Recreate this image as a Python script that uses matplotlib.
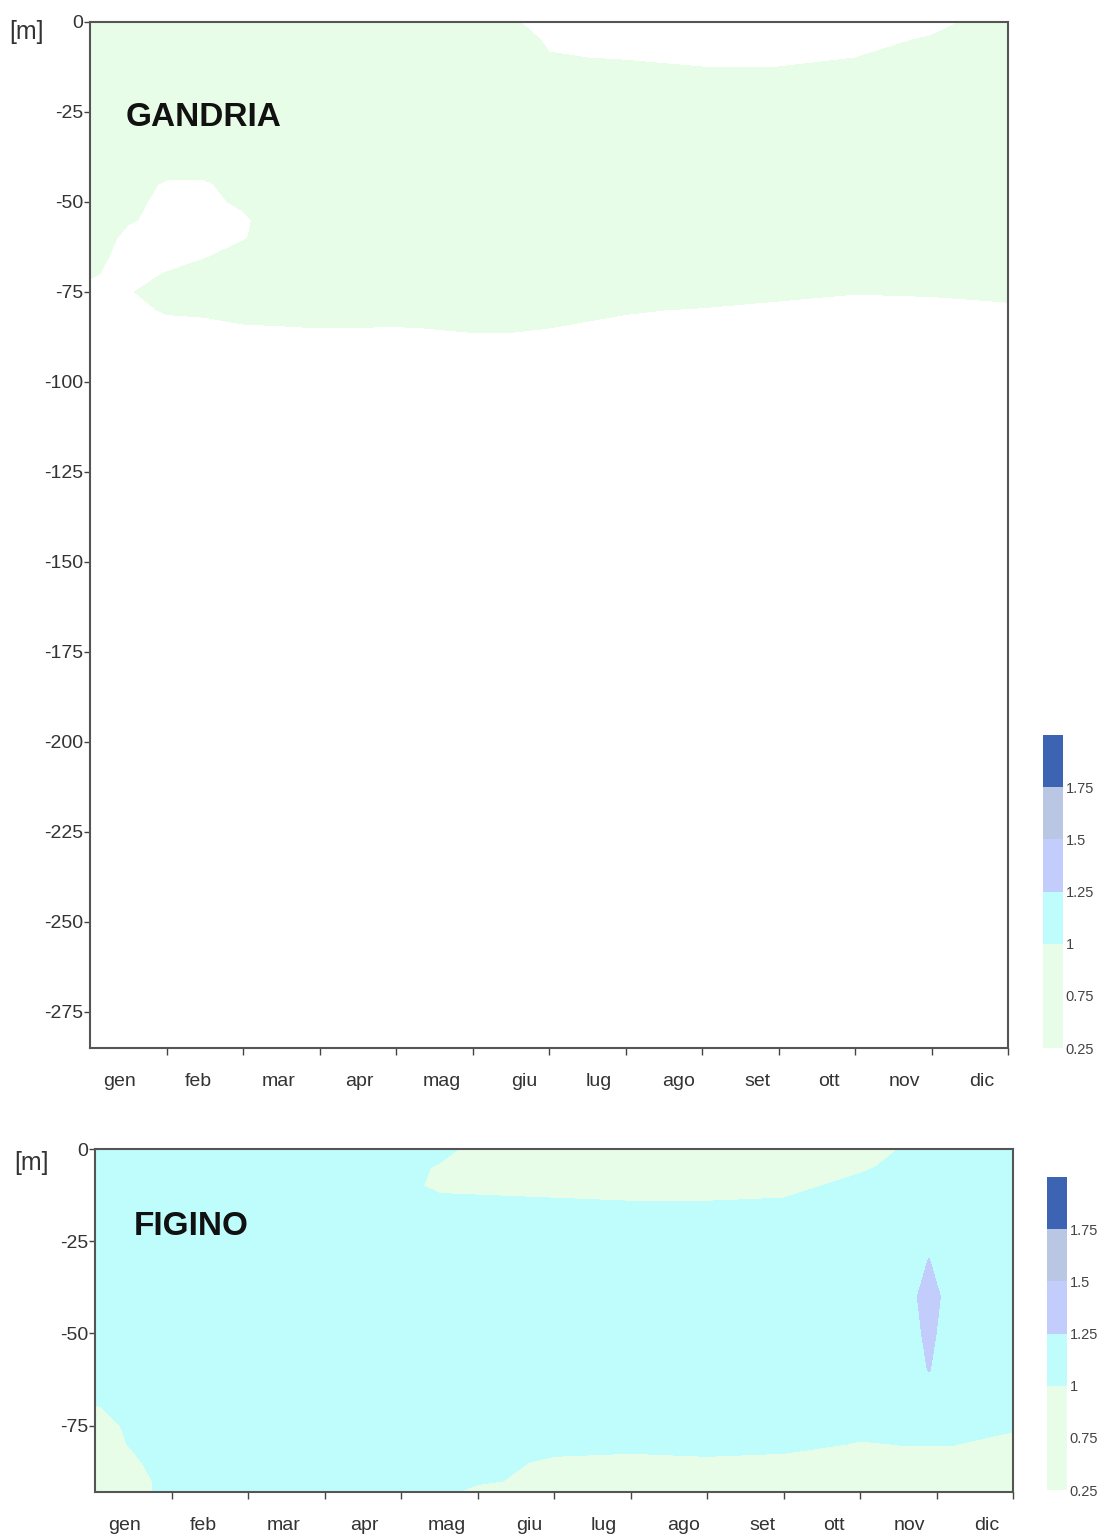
import numpy as np
import matplotlib.pyplot as plt

plt.rcParams['font.family'] = ['Liberation Sans Narrow', 'Liberation Sans', 'DejaVu Sans']

months = ['gen', 'feb', 'mar', 'apr', 'mag', 'giu', 'lug', 'ago', 'set', 'ott', 'nov', 'dic']
levels = [0.25, 0.75, 1.0, 1.25, 1.5, 1.75, 2.0]
level_colors = ['#e8fde8', '#e8fde8', '#bffdfd', '#c2cdfb', '#b9c7e4', '#3d63b3']
cbar_ticks = [0.25, 0.75, 1, 1.25, 1.5, 1.75]
cbar_ticklabels = ['0.25', '0.75', '1', '1.25', '1.5', '1.75']

# GANDRIA: months (x) and depths [m]
gandria_x = [0, 0.5, 1, 1.5, 2, 2.5, 3, 4, 5, 5.5, 6, 7, 8, 9, 10, 11, 11.5, 12]
gandria_depth = [0, 5, 10, 15, 20, 30, 40, 45, 50, 55, 60, 65, 70, 75, 80, 85, 90, 100, 150, 200, 285]
gandria_val = [
    [.6, .6, .6, .6, .6, .6, .6, .6, .6, .3, .1, .1, .1, .1, .1, .1, .3, .6],
    [.6, .6, .6, .6, .6, .6, .6, .6, .6, .6, .15, .1, .1, .1, .1, .3, .6, .6],
    [.6, .6, .6, .6, .6, .6, .6, .6, .6, .6, .3, .2, .1, .1, .25, .6, .6, .6],
    [.6, .6, .6, .6, .6, .6, .6, .6, .6, .6, .6, .6, .4, .4, .6, .6, .6, .6],
    [.6, .6, .6, .6, .6, .6, .6, .6, .6, .6, .6, .6, .6, .6, .6, .6, .6, .6],
    [.6, .6, .6, .6, .6, .6, .6, .6, .6, .6, .6, .6, .6, .6, .6, .6, .6, .6],
    [.6, .6, .6, .6, .6, .6, .6, .6, .6, .6, .6, .6, .6, .6, .6, .6, .6, .6],
    [.6, .6, .15, .15, .6, .6, .6, .6, .6, .6, .6, .6, .6, .6, .6, .6, .6, .6],
    [.6, .4, .1, .1, .35, .6, .6, .6, .6, .6, .6, .6, .6, .6, .6, .6, .6, .6],
    [.6, .3, .1, .1, .15, .6, .6, .6, .6, .6, .6, .6, .6, .6, .6, .6, .6, .6],
    [.6, .1, .1, .1, .2, .6, .6, .6, .6, .6, .6, .6, .6, .6, .6, .6, .6, .6],
    [.4, .1, .1, .2, .5, .6, .6, .6, .6, .6, .6, .6, .6, .6, .6, .6, .6, .6],
    [.3, .1, .27, .5, .6, .6, .6, .6, .6, .6, .6, .6, .6, .6, .6, .6, .6, .6],
    [.1, .2, .5, .5, .6, .6, .6, .6, .6, .6, .6, .6, .6, .4, .27, .3, .35, .45],
    [.1, .1, .3, .35, .6, .6, .6, .6, .6, .6, .6, .3, .2, .1, .1, .1, .1, .1],
    [.1, .1, .1, .1, .15, .2, .25, .22, .3, .3, .25, .1, .1, .1, .1, .1, .1, .1],
    [.1, .1, .1, .1, .1, .1, .1, .1, .1, .1, .1, .1, .1, .1, .1, .1, .1, .1],
    [.1, .1, .1, .1, .1, .1, .1, .1, .1, .1, .1, .1, .1, .1, .1, .1, .1, .1],
    [.1, .1, .1, .1, .1, .1, .1, .1, .1, .1, .1, .1, .1, .1, .1, .1, .1, .1],
    [.1, .1, .1, .1, .1, .1, .1, .1, .1, .1, .1, .1, .1, .1, .1, .1, .1, .1],
    [.1, .1, .1, .1, .1, .1, .1, .1, .1, .1, .1, .1, .1, .1, .1, .1, .1, .1],
]

# FIGINO
figino_x = [0, 0.5, 1, 2, 3, 4, 4.5, 5, 6, 7, 8, 9, 10, 10.6, 10.9, 11.2, 12]
figino_depth = [0, 5, 10, 15, 20, 30, 40, 50, 60, 65, 70, 75, 80, 85, 90, 93]
figino_val = [
    [1.1, 1.1, 1.1, 1.1, 1.1, 1.1, 1.1, .9, .9, .9, .9, .9, .9, 1.02, 1.1, 1.1, 1.1],
    [1.1, 1.1, 1.1, 1.1, 1.1, 1.1, .97, .9, .9, .9, .9, .9, .95, 1.1, 1.1, 1.1, 1.1],
    [1.1, 1.1, 1.1, 1.1, 1.1, 1.1, .93, .9, .9, .9, .9, .9, 1.1, 1.1, 1.1, 1.1, 1.1],
    [1.1, 1.1, 1.1, 1.1, 1.1, 1.1, 1.1, 1.1, 1.05, 1.02, 1.02, 1.05, 1.1, 1.1, 1.1, 1.1, 1.1],
    [1.1, 1.1, 1.1, 1.1, 1.1, 1.1, 1.1, 1.1, 1.1, 1.1, 1.1, 1.1, 1.1, 1.1, 1.1, 1.1, 1.1],
    [1.1, 1.1, 1.1, 1.1, 1.1, 1.1, 1.1, 1.1, 1.1, 1.1, 1.1, 1.1, 1.1, 1.1, 1.255, 1.1, 1.1],
    [1.1, 1.1, 1.1, 1.1, 1.1, 1.1, 1.1, 1.1, 1.1, 1.1, 1.1, 1.1, 1.1, 1.1, 1.4, 1.1, 1.1],
    [1.1, 1.1, 1.1, 1.1, 1.1, 1.1, 1.1, 1.1, 1.1, 1.1, 1.1, 1.1, 1.1, 1.1, 1.32, 1.1, 1.1],
    [1.1, 1.1, 1.1, 1.1, 1.1, 1.1, 1.1, 1.1, 1.1, 1.1, 1.1, 1.1, 1.1, 1.1, 1.26, 1.1, 1.1],
    [1.1, 1.1, 1.1, 1.1, 1.1, 1.1, 1.1, 1.1, 1.1, 1.1, 1.1, 1.1, 1.1, 1.1, 1.1, 1.1, 1.1],
    [.98, 1.1, 1.1, 1.1, 1.1, 1.1, 1.1, 1.1, 1.1, 1.1, 1.1, 1.1, 1.1, 1.1, 1.1, 1.1, 1.1],
    [.9, 1.05, 1.1, 1.1, 1.1, 1.1, 1.1, 1.1, 1.1, 1.1, 1.1, 1.1, 1.1, 1.1, 1.1, 1.1, 1.05],
    [.9, 1.02, 1.1, 1.1, 1.1, 1.1, 1.1, 1.1, 1.1, 1.1, 1.1, 1.1, .98, 1.01, 1.01, 1.01, .9],
    [.9, .97, 1.1, 1.1, 1.1, 1.1, 1.1, 1.1, .95, .9, .95, .9, .9, .9, .9, .9, .9],
    [.9, .9, 1.1, 1.1, 1.1, 1.1, 1.1, 1.05, .9, .9, .9, .9, .9, .9, .9, .9, .9],
    [.9, .9, 1.1, 1.1, 1.1, 1.1, 1.1, .9, .9, .9, .9, .9, .9, .9, .9, .9, .9],
]

# month label positions as laid out in the original (slightly wider spacing than the ticks)
month_label_x = [0.39, 1.42, 2.47, 3.52, 4.6, 5.67, 6.65, 7.69, 8.72, 9.66, 10.65, 11.66]

W, H = 1102, 1539
fig = plt.figure(figsize=(W / 100, H / 100), dpi=100)


def px_rect(x0, y0, x1, y1):
    return [x0 / W, 1 - y1 / H, (x1 - x0) / W, (y1 - y0) / H]


def draw_panel(ax, cax, xs, depths, vals, ymin, yticks, name, name_xy):
    X, Y = np.meshgrid(xs, -np.array(depths))
    cs = ax.contourf(X, Y, np.array(vals), levels=levels, colors=level_colors)
    ax.set_xlim(0, 12)
    ax.set_ylim(ymin, 0)
    ax.set_yticks(yticks)
    ax.set_yticklabels([str(t) for t in yticks])
    ax.set_xticks(range(1, 13))
    ax.set_xticklabels([])
    ax.set_xticks(month_label_x, minor=True)
    ax.set_xticklabels(months, minor=True)
    ax.tick_params(axis='x', which='minor', length=0, pad=18, labelsize=14, colors='#333333')
    ax.tick_params(axis='x', which='major', length=5, width=1, colors='#444444')
    ax.tick_params(axis='y', length=4, width=1, pad=1, labelsize=14, colors='#444444')
    for t in ax.get_yticklabels():
        t.set_color('#333333')
    for s in ax.spines.values():
        s.set_color('#555555')
        s.set_linewidth(1.5)
    ax.text(name_xy[0], name_xy[1], name, fontsize=24, fontweight='bold',
            family=['Liberation Sans', 'DejaVu Sans'], va='center', ha='left', color='#111111')

    cb = fig.colorbar(cs, cax=cax, ticks=cbar_ticks)
    cb.ax.set_yticklabels(cbar_ticklabels)
    cb.outline.set_visible(False)
    cb.ax.tick_params(length=0, labelsize=10.5, pad=2, colors='#444444')
    return cs


ax1 = fig.add_axes(px_rect(90, 22, 1008, 1048))
cax1 = fig.add_axes(px_rect(1043, 735, 1063, 1048))
draw_panel(ax1, cax1, gandria_x, gandria_depth, gandria_val, -285,
           list(range(0, -276, -25)), 'GANDRIA', (0.46, -26.5))

ax2 = fig.add_axes(px_rect(95, 1149, 1013, 1492))
cax2 = fig.add_axes(px_rect(1047, 1177, 1067, 1490))
draw_panel(ax2, cax2, figino_x, figino_depth, figino_val, -93,
           [0, -25, -50, -75], 'FIGINO', (0.5, -21))

fig.text(9 / W, 1 - 32 / H, '[m]', fontsize=18, va='center', ha='left', color='#333333')
fig.text(14 / W, 1 - 1163 / H, '[m]', fontsize=18, va='center', ha='left', color='#333333')

fig.savefig('out.png', dpi=100)
